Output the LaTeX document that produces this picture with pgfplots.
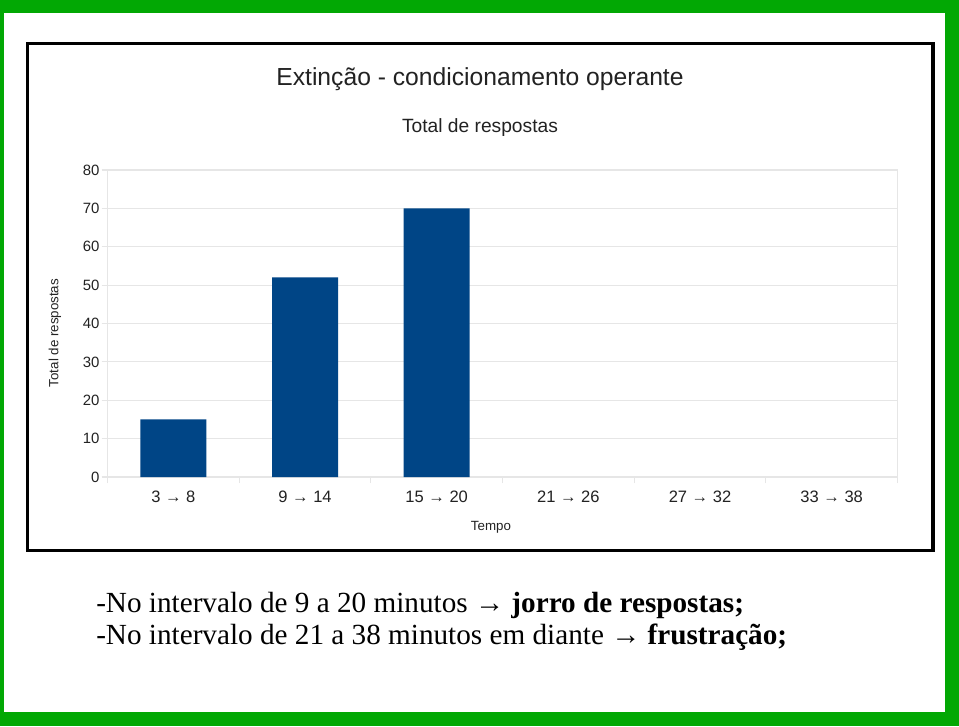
\documentclass[border=0pt]{standalone}
\usepackage{pgfplots}
\pgfplotsset{compat=1.18}
\usepackage{fontspec}
\setmainfont{Liberation Sans}
\newfontfamily\serif{Liberation Serif}
\definecolor{frame}{RGB}{2,168,4}
\definecolor{barblue}{HTML}{004586}
\definecolor{gridgray}{HTML}{E6E6E6}
\definecolor{txt}{HTML}{222222}

\begin{document}
\begin{tikzpicture}[x=0.75pt,y=0.75pt]
% green frame and white page
\fill[frame] (0,0) rectangle (959,726);
\fill[white] (4,14) rectangle (945,713);
% chart box
\draw[black,line width=2.6pt] (27.5,175.5) rectangle (933,682.5);

\begin{axis}[
  at={(80.625pt,186.75pt)}, anchor=south west,
  scale only axis,
  width=592.5pt, height=230.25pt,
  ybar, bar width=49.5pt,
  xmin=-0.5, xmax=5.5,
  ymin=0, ymax=80,
  ytick={0,10,...,80},
  xtick={-0.5,0.5,...,5.5},
  x tick label as interval,
  xticklabels={3 → 8, 9 → 14, 15 → 20, 21 → 26, 27 → 32, 33 → 38},
  tick pos=left,
  ymajorgrids,
  grid style={draw=gridgray, line width=0.8pt},
  axis line style={draw=gridgray, line width=0.8pt},
  tick style={draw=gridgray, line width=0.8pt},
  tick align=outside,
  major tick length=4.5pt,
  tick label style={font=\fontsize{11.2}{13}\selectfont, text=txt},
  xticklabel style={font=\fontsize{12.4}{14}\selectfont, yshift=-2.5pt},
  /pgf/number format/assume math mode=true,
  yticklabel style={xshift=2pt},
  xlabel={Tempo},
  xlabel style={at={(axis description cs:0.4854,-0.163)}, anchor=center, font=\fontsize{10}{12}\selectfont, text=txt},
  ylabel={Total de respostas},
  ylabel style={at={(axis description cs:-0.0665,0.469)}, anchor=center, font=\fontsize{10}{12}\selectfont, text=txt},
]
% 21-26, 27-32, 33-38 have 0 responses (no visible bar)
\addplot[fill=barblue, draw=none] coordinates {(0,15) (1,52) (2,70)};
\end{axis}

% title and subtitle
\node[anchor=base, text=txt, font=\fontsize{18.5}{22}\selectfont] at (480,640) {Extinção - condicionamento operante};
\node[anchor=base, text=txt, font=\fontsize{14.4}{17}\selectfont] at (480,593) {Total de respostas};

% notes below the chart
\node[anchor=base west, inner sep=0pt, font=\serif\fontsize{21.9}{26}\selectfont] at (96,114)
  {-No intervalo de 9 a 20 minutos → \textbf{jorro de respostas;}};
\node[anchor=base west, inner sep=0pt, font=\serif\fontsize{21.9}{26}\selectfont] at (96,82)
  {-No intervalo de 21 a 38 minutos em diante → \textbf{frustração;}};
\end{tikzpicture}
\end{document}
